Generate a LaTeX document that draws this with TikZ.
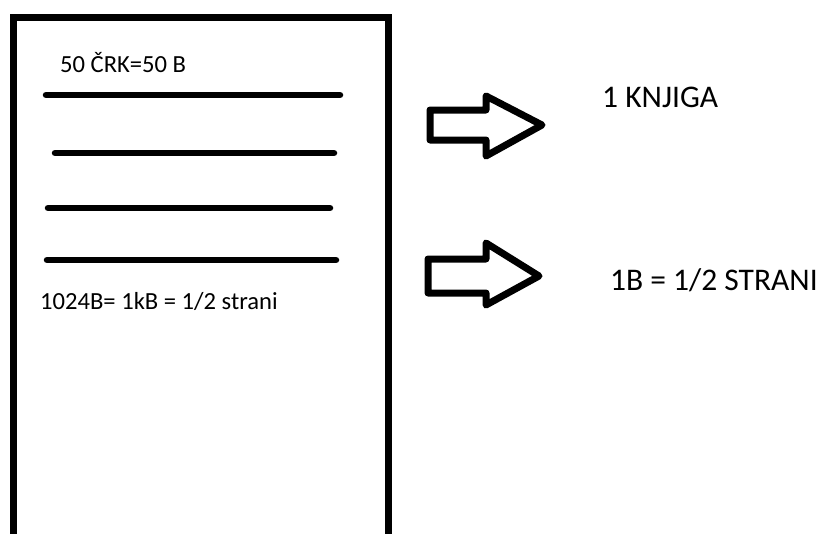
\documentclass[tikz,border=0pt]{standalone}
\usepackage{fontspec}
\setmainfont{Carlito}
\begin{document}
\begin{tikzpicture}[x=1pt,y=-1pt,
  frame/.style={line width=7pt},
  textline/.style={line width=6.5pt,line cap=round},
  bigarrow/.style={line width=7pt,line join=round},
  small/.style={inner sep=0pt,anchor=base west,font=\fontsize{24.6}{28}\selectfont},
  big/.style={inner sep=0pt,anchor=base west,font=\fontsize{31.5}{36}\selectfont}]
\useasboundingbox (0,0) rectangle (824,533);
\begin{scope}
\clip (0,0) rectangle (824,533);
% page outline
\draw[frame] (13.5,17.5) rectangle (388,540);
\end{scope}
% text lines on the page
\draw[textline] (46,95) -- (340,95);
\draw[textline] (55,153) -- (334,153);
\draw[textline] (48,208) -- (330,208);
\draw[textline] (47,260) -- (336,260);
% labels on the page
\node[small] (top) at (60,72) {50 ČRK=50 B};
\node[small] (bottom) at (40,309) {1024B= 1kB = 1/2 strani};
% hollow arrows
\draw[bigarrow] (430,110) -- (486,110) -- (486,96) -- (542,125) -- (486,156) -- (486,140) -- (430,140) -- cycle;
\draw[bigarrow] (428,259) -- (486,259) -- (486,243) -- (539,276) -- (486,305) -- (486,293) -- (428,293) -- cycle;
% results
\node[big] (book) at (602,107) {1 KNJIGA};
\node[big] (half) at (610,290) {1B = 1/2 STRANI};
\end{tikzpicture}
\end{document}
